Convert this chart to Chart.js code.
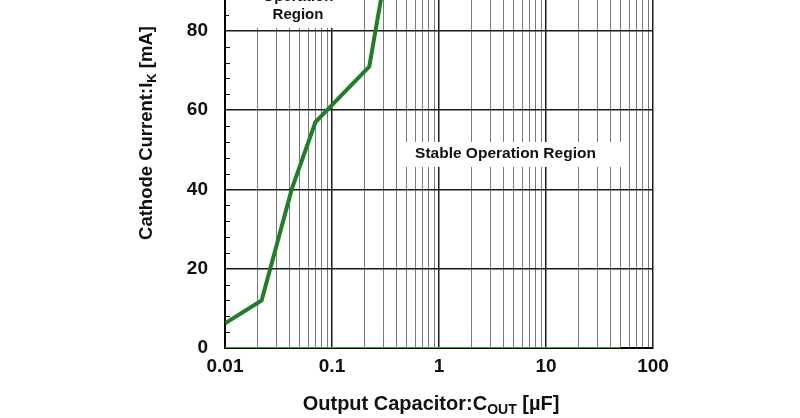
<!DOCTYPE html>
<html lang="en">
<head>
<meta charset="UTF-8">
<title>Cathode Current vs Output Capacitor</title>
<script src="https://cdn.jsdelivr.net/npm/chart.js"></script>
<style>
    body { margin: 0; background: #fff; }
    canvas { display: block; }
</style>
</head>
<body>
<canvas id="chart" width="800" height="418"></canvas>
<script>
// Data
const xTickValues = [0.01, 0.1, 1, 10, 100];
const xTickLabels = ['0.01', '0.1', '1', '10', '100'];
const yTickValues = [0, 20, 40, 60, 80];
const yMinorStep = 4;

// Stability boundary (uF, mA)
const curveX = [0.01, 0.022, 0.042, 0.07, 0.223, 0.3];
const curveY = [6.2, 12, 40, 57, 71, 91];

// Zero current line
const zeroX = [0.01, 50];
const zeroY = [0, 0];

// Region labels (value space)
const stableLabel = { text: ['Stable Operation Region'], x: 4.18, y: 49, box: [0.451, 54.7, 45.7, 52] };
const unstableLabel = { text: ['Operation', 'Region'], x: 0.0481, y: [88.6, 84.0], box: [0.0109, 0.19, 80.8, 90] };

const FONT = "'Liberation Sans', Arial, sans-serif";

// every 1..9 line per decade
const xGridValues = [];
xTickValues.slice(0, -1).forEach(d => {
    for (let s = 1; s <= 9; s++) xGridValues.push(d * s);
});
xGridValues.push(xTickValues[xTickValues.length - 1]);

function isDecade(v) {
    const l = Math.log10(v);
    return Math.abs(l - Math.round(l)) < 1e-9;
}

function drawParts(ctx, parts, x, y, size) {
    const subSize = Math.round(size * 0.72);
    let total = 0;
    parts.forEach(p => {
        ctx.font = 'bold ' + (p.sub ? subSize : size) + 'px ' + FONT;
        p.w = ctx.measureText(p.t).width;
        total += p.w;
    });
    let cx = x - total / 2;
    ctx.textAlign = 'left';
    ctx.textBaseline = 'alphabetic';
    parts.forEach(p => {
        ctx.font = 'bold ' + (p.sub ? subSize : size) + 'px ' + FONT;
        ctx.fillText(p.t, cx, y + (p.sub ? 4 : 0));
        cx += p.w;
    });
}

const extras = {
    id: 'extras',
    beforeDatasetsDraw(chart) {
        const { ctx, scales: { x, y }, chartArea } = chart;
        ctx.save();

        // minor y ticks, inside the plot
        ctx.strokeStyle = '#111';
        ctx.lineWidth = 1;
        for (let v = yMinorStep; v < y.max; v += yMinorStep) {
            if (v % 20 === 0) continue;
            const py = Math.round(y.getPixelForValue(v)) + 0.5;
            ctx.beginPath();
            ctx.moveTo(chartArea.left, py);
            ctx.lineTo(chartArea.left + 5, py);
            ctx.stroke();
        }

        // white label boxes
        ctx.fillStyle = '#fff';
        [stableLabel, unstableLabel].forEach(l => {
            const x0 = x.getPixelForValue(l.box[0]);
            const x1 = x.getPixelForValue(l.box[1]);
            const y0 = y.getPixelForValue(l.box[3]);
            const y1 = y.getPixelForValue(l.box[2]);
            ctx.fillRect(x0, y0, x1 - x0, y1 - y0);
        });

        ctx.fillStyle = '#111';
        ctx.textAlign = 'center';
        ctx.textBaseline = 'middle';
        ctx.font = 'bold 15.5px ' + FONT;
        ctx.fillText(stableLabel.text[0], x.getPixelForValue(stableLabel.x), y.getPixelForValue(stableLabel.y));
        ctx.font = 'bold 15px ' + FONT;
        unstableLabel.text.forEach((t, i) => {
            ctx.fillText(t, x.getPixelForValue(unstableLabel.x), y.getPixelForValue(unstableLabel.y[i]));
        });
        ctx.restore();
    },
    afterDraw(chart) {
        const { ctx } = chart;
        ctx.save();
        ctx.fillStyle = '#111';
        // x title
        drawParts(ctx, [{ t: 'Output Capacitor:C' }, { t: 'OUT', sub: true }, { t: ' [\u00b5F]' }], 431, 410, 20);
        // y title, rotated
        ctx.translate(152, 133);
        ctx.rotate(-Math.PI / 2);
        drawParts(ctx, [{ t: 'Cathode Current:I' }, { t: 'K', sub: true }, { t: ' [mA]' }], 0, 0, 18.5);
        ctx.restore();
    }
};

new Chart(document.getElementById('chart'), {
    type: 'line',
    data: {
        datasets: [
            {
                data: zeroX.map((v, i) => ({ x: v, y: zeroY[i] })),
                borderColor: '#3f9f3f',
                borderWidth: 2,
                pointRadius: 0,
                tension: 0
            },
            {
                data: curveX.map((v, i) => ({ x: v, y: curveY[i] })),
                borderColor: '#1f7f24',
                borderWidth: 4,
                pointRadius: 0,
                tension: 0
            }
        ]
    },
    options: {
        responsive: false,
        animation: false,
        devicePixelRatio: 1,
        layout: { padding: { left: 0, right: 147, top: 0, bottom: 0 } },
        plugins: { legend: { display: false }, tooltip: { enabled: false } },
        scales: {
            x: {
                type: 'logarithmic',
                min: 0.01,
                max: 100,
                afterBuildTicks: s => { s.ticks = xGridValues.map(v => ({ value: v })); },
                afterFit: s => { s.height = 70; s.paddingLeft = 0; s.paddingRight = 0; },
                ticks: {
                    autoSkip: false,
                    maxRotation: 0,
                    padding: 7,
                    color: '#111',
                    font: { family: FONT, size: 19, weight: 'bold' },
                    callback: v => {
                        const i = xTickValues.findIndex(t => Math.abs(t - v) < v * 1e-6);
                        return i >= 0 ? xTickLabels[i] : '';
                    }
                },
                grid: {
                    drawTicks: false,
                    color: c => isDecade(c.tick.value) ? '#1a1a1a' : '#7a7a7a',
                    lineWidth: c => isDecade(c.tick.value) ? 1.5 : 1
                },
                border: { color: '#000', width: 2 }
            },
            y: {
                min: 0,
                max: 87.8,
                afterBuildTicks: s => { s.ticks = yTickValues.map(v => ({ value: v })); },
                afterFit: s => { s.width = 225; s.paddingTop = 0; s.paddingBottom = 0; },
                ticks: {
                    padding: 17,
                    color: '#111',
                    font: { family: FONT, size: 19, weight: 'bold' }
                },
                grid: { drawTicks: false, color: '#1a1a1a', lineWidth: 1.5 },
                border: { color: '#000', width: 2 }
            }
        }
    },
    plugins: [extras]
});
</script>
</body>
</html>
